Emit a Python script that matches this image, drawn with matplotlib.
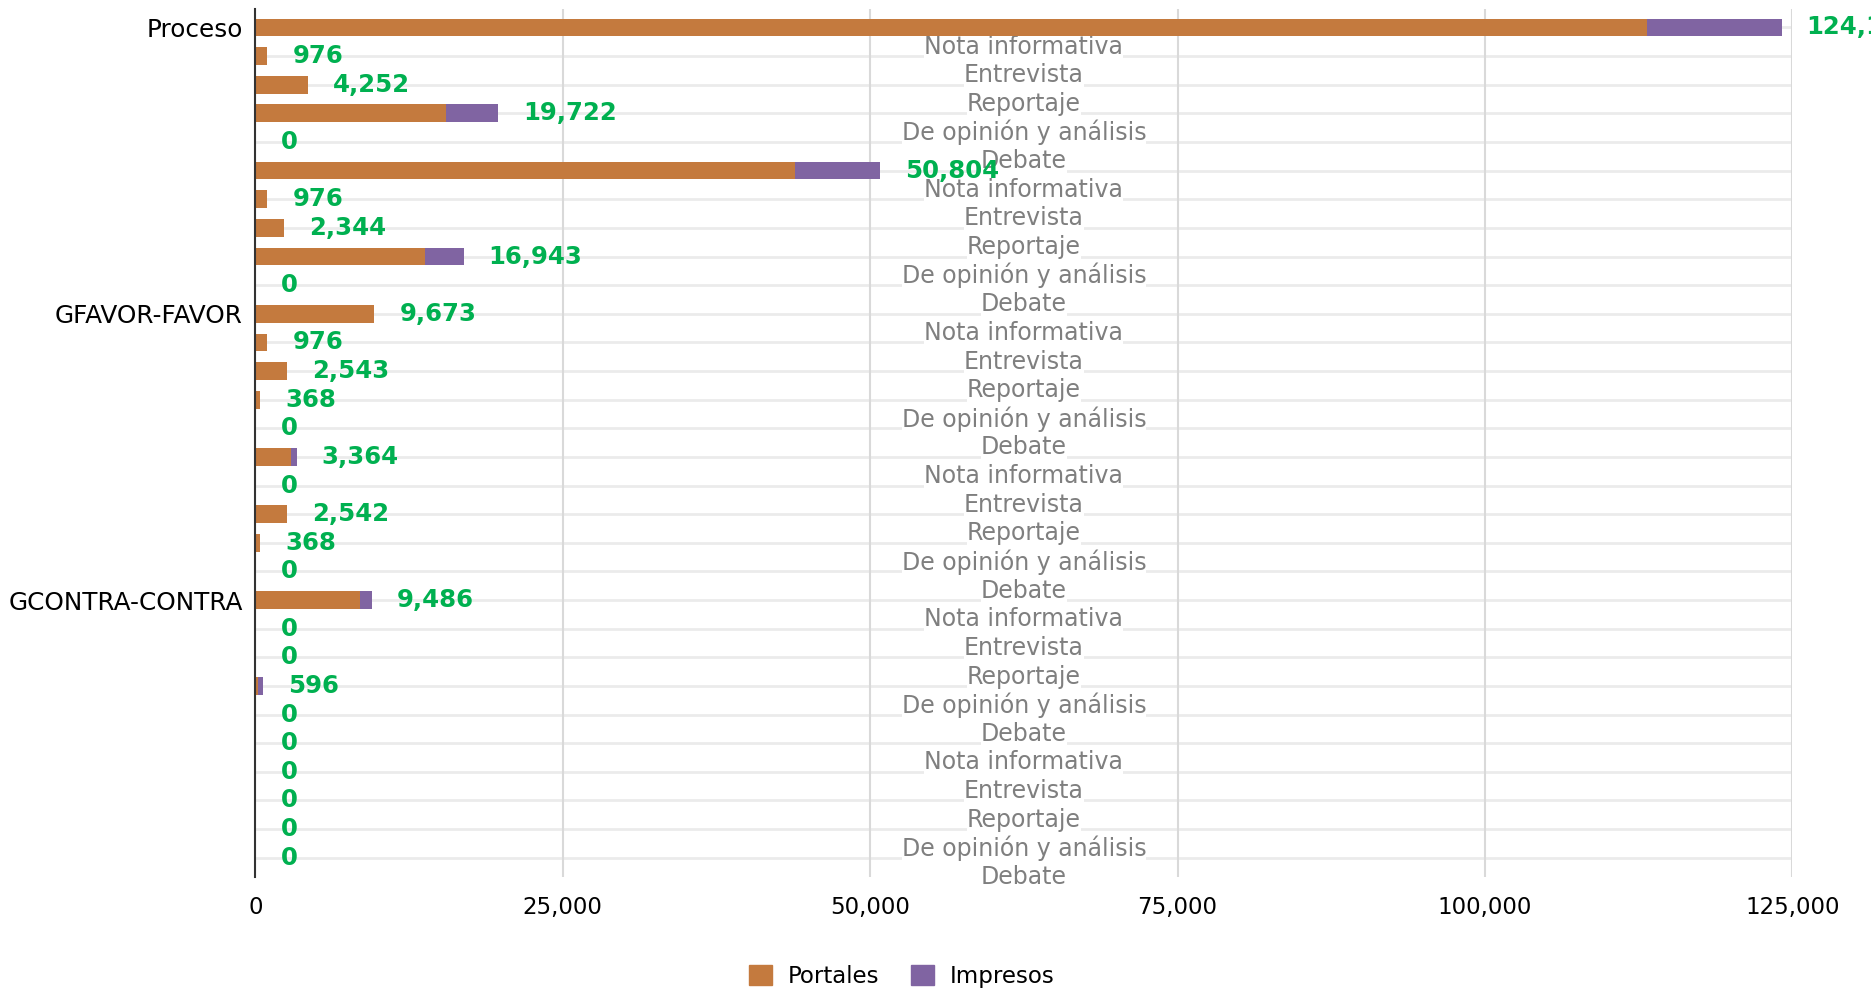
import matplotlib
matplotlib.use("Agg")
import matplotlib.pyplot as plt
from matplotlib.patches import Patch

# data
group_labels = ["Proceso"] + [""] * 9 + ["GFAVOR-FAVOR"] + [""] * 9 + ["GCONTRA-CONTRA"] + [""] * 9
sub_labels = ["Nota informativa", "Entrevista", "Reportaje", "De opinión y análisis", "Debate"] * 6
portales = [113160, 976, 4252, 15528, 0, 43866, 976, 2344, 13781, 0,
            9673, 976, 2543, 368, 0, 2900, 0, 2542, 368, 0,
            8526, 0, 0, 200, 0, 0, 0, 0, 0, 0]
impresos = [10970, 0, 0, 4194, 0, 6938, 0, 0, 3162, 0,
            0, 0, 0, 0, 0, 464, 0, 0, 0, 0,
            960, 0, 0, 396, 0, 0, 0, 0, 0, 0]
x_ticks = [0, 25000, 50000, 75000, 100000, 125000]

C_PORT = "#C47A3E"
C_IMP = "#8064A2"
C_VAL = "#00B050"

fig = plt.figure(figsize=(18.71, 9.92), dpi=100)
ax = fig.add_axes([0.1365, 0.116, 0.8215, 0.8745])

n = len(portales)
ys = list(range(n))
totals = [p + i for p, i in zip(portales, impresos)]

# horizontal gridlines at row centres
for y in ys:
    ax.axhline(y, color="#ebebeb", lw=2, zorder=0)

ax.barh(ys, portales, height=0.62, color=C_PORT, zorder=3)
ax.barh(ys, impresos, left=portales, height=0.62, color=C_IMP, zorder=3)

# sub-category labels floating in the middle of the plot
for y, s in zip(ys, sub_labels):
    ax.text(62500, y + 0.67, s, ha="center", va="center", fontsize=17, color="#7f7f7f",
            zorder=2, bbox=dict(facecolor="white", edgecolor="none", pad=0))

for y, t in zip(ys, totals):
    ax.annotate(f"{t:,}", xy=(t, y), xytext=(18, 0), textcoords="offset points",
                ha="left", va="center", fontsize=17.6, fontweight="bold", color=C_VAL,
                zorder=5, annotation_clip=False)

ax.set_xlim(0, 125000)
ax.set_ylim(29.67, -0.63)
ax.set_xticks(x_ticks)
ax.set_xticklabels([f"{v:,}" for v in x_ticks])
ax.set_yticks(ys)
ax.set_yticklabels(group_labels)
ax.tick_params(axis="x", length=0, pad=14, labelsize=16.5)
ax.tick_params(axis="y", length=0, pad=9, labelsize=17.8)
ax.grid(axis="x", color="#d9d9d9", lw=1.5, zorder=0)
ax.set_axisbelow(True)
for side in ["top", "right", "bottom"]:
    ax.spines[side].set_visible(False)
ax.spines["left"].set_color("#333333")
ax.spines["left"].set_linewidth(1.5)
ax.spines["left"].set_zorder(6)

handles = [Patch(color=C_PORT, label="Portales"), Patch(color=C_IMP, label="Impresos")]
fig.legend(handles=handles, loc="center", bbox_to_anchor=(0.482, 0.016), ncol=2,
           frameon=False, fontsize=16.5, handlelength=1.0, handleheight=1.0,
           handletextpad=0.7, columnspacing=1.4)

fig.savefig("out.png", dpi=100)
